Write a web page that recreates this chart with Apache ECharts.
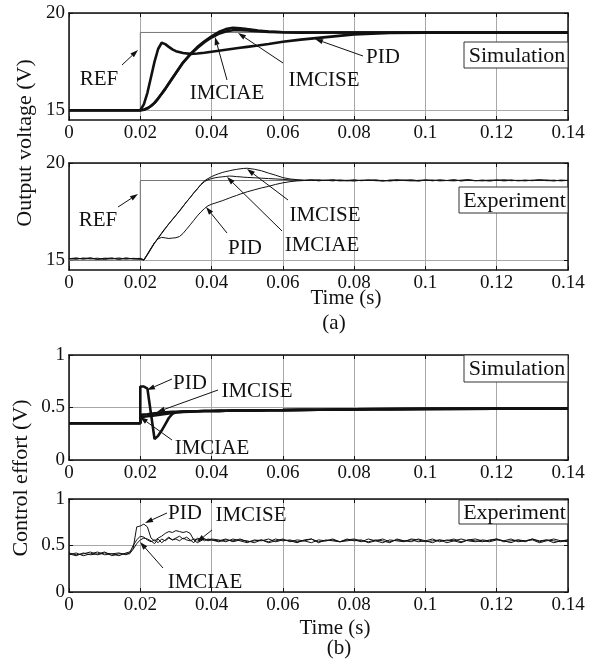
<!DOCTYPE html>
<html>
<head>
<meta charset="utf-8">
<script src="https://cdn.jsdelivr.net/npm/echarts@6/dist/echarts.min.js"></script>
<style>
  html, body { margin: 0; padding: 0; background: #fff; }
  #chart { width: 597px; height: 668px; }
</style>
</head>
<body>
<div id="chart"></div>
<script>
// ---- data ----
const xTicks = [0, 0.02, 0.04, 0.06, 0.08, 0.1, 0.12, 0.14]
const vTicks = [15, 20]
const uTicks = [0, 0.5, 1]

// reference steps
const refT = [0, 0.02, 0.02, 0.14]
const refSimV = [15, 15, 19, 19]
const refExpV = [15, 15, 19.1, 19.1]

// simulation time base (0.02 doubled for the step)
const tSim = [0, 0.02, 0.02, 0.021, 0.022, 0.023, 0.024, 0.025, 0.026, 0.027, 0.028, 0.029, 0.030,
  0.032, 0.034, 0.036, 0.038, 0.040, 0.042, 0.044, 0.046, 0.048, 0.050, 0.053, 0.056, 0.060,
  0.065, 0.070, 0.080, 0.090, 0.100, 0.120, 0.140]

// (a) output voltage, simulation
const pidSimV = [15, 15, 15, 15.3, 15.9, 16.7, 17.5, 18.15, 18.47, 18.4, 18.26, 18.13, 18.04,
  17.94, 17.9, 17.92, 17.96, 18.01, 18.06, 18.11, 18.16, 18.21, 18.26, 18.33, 18.41, 18.52,
  18.63, 18.72, 18.9, 18.97, 18.99, 19.0, 19.0]
const iaeSimV = [15, 15, 15, 15.03, 15.1, 15.22, 15.38, 15.6, 15.85, 16.1, 16.38, 16.65, 16.92,
  17.45, 17.88, 18.25, 18.55, 18.8, 19.02, 19.17, 19.24, 19.22, 19.17, 19.1, 19.05, 19.01,
  18.99, 19.0, 19.0, 19.0, 19.0, 19.0, 19.0]
const iseSimV = [15, 15, 15, 15.03, 15.1, 15.22, 15.38, 15.6, 15.85, 16.1, 16.38, 16.65, 16.92,
  17.45, 17.86, 18.2, 18.5, 18.74, 18.93, 19.05, 19.11, 19.12, 19.1, 19.06, 19.03, 19.01,
  19.0, 19.0, 19.0, 19.0, 19.0, 19.0, 19.0]

// (b) control effort, simulation
const pidSimU = [0.35, 0.35, 0.7, 0.7, 0.68, 0.44, 0.2, 0.23, 0.28, 0.34, 0.4, 0.44, 0.455,
  0.461, 0.463, 0.465, 0.466, 0.467, 0.468, 0.469, 0.47, 0.471, 0.472, 0.473, 0.474, 0.475,
  0.477, 0.479, 0.482, 0.485, 0.487, 0.489, 0.49]
const iaeSimU = [0.35, 0.35, 0.41, 0.413, 0.416, 0.42, 0.424, 0.428, 0.433, 0.438, 0.443, 0.448, 0.452,
  0.458, 0.461, 0.464, 0.466, 0.467, 0.468, 0.469, 0.47, 0.471, 0.472, 0.473, 0.474, 0.475,
  0.477, 0.479, 0.482, 0.485, 0.487, 0.489, 0.49]
const iseSimU = [0.35, 0.35, 0.43, 0.433, 0.436, 0.44, 0.444, 0.448, 0.451, 0.454, 0.456, 0.458, 0.46,
  0.462, 0.464, 0.465, 0.466, 0.467, 0.468, 0.469, 0.47, 0.471, 0.472, 0.473, 0.474, 0.475,
  0.477, 0.479, 0.482, 0.485, 0.487, 0.489, 0.49]

// (a) output voltage, experiment
const tExpV = [0, 0.002, 0.004, 0.006, 0.008, 0.010, 0.012, 0.014, 0.016, 0.018, 0.020,
  0.021, 0.022, 0.023, 0.024, 0.025, 0.026, 0.027, 0.028, 0.029, 0.030,
  0.031, 0.032, 0.033, 0.034, 0.035, 0.036, 0.037, 0.038, 0.039, 0.040,
  0.041, 0.042, 0.043, 0.044, 0.045, 0.046, 0.047, 0.048, 0.049, 0.050,
  0.052, 0.054, 0.056, 0.058, 0.060, 0.062, 0.064, 0.066, 0.068, 0.070,
  0.072, 0.074, 0.076, 0.078, 0.080, 0.082, 0.084, 0.086, 0.088, 0.090,
  0.092, 0.094, 0.096, 0.098, 0.100, 0.102, 0.104, 0.106, 0.108, 0.110,
  0.112, 0.114, 0.116, 0.118, 0.120, 0.122, 0.124, 0.126, 0.128, 0.130,
  0.132, 0.134, 0.136, 0.138, 0.140]
const pidExpV = [15.08, 15.12, 15.06, 15.1, 15.05, 15.11, 15.07, 15.12, 15.06, 15.1, 15.08,
  15.02, 15.3, 15.6, 15.9, 16.1, 16.18, 16.15, 16.12, 16.14, 16.16,
  16.22, 16.38, 16.6, 16.82, 17.05, 17.28, 17.48, 17.66, 17.8, 17.88,
  17.94, 18.0, 18.06, 18.13, 18.2, 18.27, 18.33, 18.4, 18.46, 18.52,
  18.62, 18.72, 18.8, 18.9, 18.98, 19.04, 19.08, 19.1, 19.13, 19.09,
  19.12, 19.08, 19.13, 19.1, 19.07, 19.12, 19.1, 19.14, 19.08, 19.11,
  19.09, 19.13, 19.1, 19.07, 19.12, 19.09, 19.13, 19.1, 19.08, 19.12,
  19.14, 19.09, 19.11, 19.07, 19.12, 19.1, 19.13, 19.08, 19.11, 19.1,
  19.14, 19.09, 19.12, 19.08, 19.11]
const iaeExpV = [15.1, 15.05, 15.12, 15.07, 15.11, 15.04, 15.1, 15.06, 15.12, 15.07, 15.05,
  15.0, 15.28, 15.58, 15.88, 16.15, 16.4, 16.65, 16.86, 17.1, 17.3,
  17.55, 17.78, 18.0, 18.23, 18.45, 18.68, 18.88, 19.04, 19.14, 19.2,
  19.24, 19.27, 19.29, 19.31, 19.33, 19.32, 19.3, 19.29, 19.27, 19.26,
  19.24, 19.22, 19.2, 19.18, 19.16, 19.13, 19.12, 19.1, 19.13, 19.09,
  19.11, 19.14, 19.1, 19.08, 19.12, 19.1, 19.13, 19.09, 19.11, 19.07,
  19.12, 19.1, 19.14, 19.09, 19.11, 19.13, 19.08, 19.1, 19.12, 19.09,
  19.13, 19.1, 19.08, 19.12, 19.1, 19.14, 19.09, 19.11, 19.08, 19.12,
  19.1, 19.13, 19.09, 19.11, 19.1]
const iseExpV = [15.06, 15.1, 15.08, 15.13, 15.05, 15.09, 15.12, 15.05, 15.1, 15.08, 15.1,
  15.03, 15.32, 15.62, 15.9, 16.12, 16.38, 16.62, 16.88, 17.08, 17.32,
  17.52, 17.76, 18.02, 18.22, 18.47, 18.66, 18.9, 19.08, 19.2, 19.3,
  19.38, 19.45, 19.51, 19.56, 19.6, 19.64, 19.67, 19.7, 19.72, 19.73,
  19.68, 19.6, 19.48, 19.37, 19.25, 19.18, 19.14, 19.12, 19.11, 19.14,
  19.1, 19.12, 19.08, 19.11, 19.13, 19.09, 19.12, 19.1, 19.07, 19.12,
  19.14, 19.1, 19.08, 19.11, 19.13, 19.09, 19.12, 19.1, 19.14, 19.08,
  19.11, 19.09, 19.12, 19.1, 19.13, 19.08, 19.11, 19.1, 19.12, 19.09,
  19.13, 19.1, 19.08, 19.12, 19.1]

// (b) control effort, experiment
const tExpU = [0, 0.002, 0.004, 0.006, 0.008, 0.010, 0.012, 0.014, 0.016,
  0.017, 0.018, 0.019, 0.020, 0.021, 0.022, 0.023, 0.024, 0.025, 0.026, 0.027, 0.028,
  0.029, 0.030, 0.031, 0.032, 0.033, 0.034, 0.035, 0.036, 0.037, 0.038, 0.039, 0.040,
  0.042, 0.044, 0.046, 0.048, 0.050, 0.052, 0.054, 0.056, 0.058, 0.060,
  0.062, 0.064, 0.066, 0.068, 0.070, 0.072, 0.074, 0.076, 0.078, 0.080,
  0.082, 0.084, 0.086, 0.088, 0.090, 0.092, 0.094, 0.096, 0.098, 0.100,
  0.102, 0.104, 0.106, 0.108, 0.110, 0.112, 0.114, 0.116, 0.118, 0.120,
  0.122, 0.124, 0.126, 0.128, 0.130, 0.132, 0.134, 0.136, 0.138, 0.140]
const pidExpU = [0.42, 0.4, 0.41, 0.43, 0.4, 0.42, 0.41, 0.39, 0.42,
  0.43, 0.47, 0.7, 0.71, 0.73, 0.7, 0.58, 0.55, 0.58, 0.6, 0.63, 0.65,
  0.64, 0.66, 0.65, 0.64, 0.65, 0.63, 0.56, 0.53, 0.55, 0.57, 0.56, 0.57,
  0.56, 0.54, 0.57, 0.55, 0.53, 0.56, 0.55, 0.57, 0.54, 0.56,
  0.55, 0.53, 0.56, 0.57, 0.54, 0.55, 0.56, 0.54, 0.57, 0.55,
  0.56, 0.53, 0.55, 0.57, 0.54, 0.56, 0.55, 0.54, 0.57, 0.55,
  0.53, 0.56, 0.55, 0.57, 0.54, 0.56, 0.55, 0.54, 0.56, 0.57,
  0.55, 0.53, 0.56, 0.55, 0.57, 0.54, 0.56, 0.55, 0.54, 0.56]
const iaeExpU = [0.4, 0.42, 0.39, 0.41, 0.43, 0.4, 0.41, 0.42, 0.4,
  0.42, 0.5, 0.56, 0.6, 0.59, 0.56, 0.54, 0.56, 0.53, 0.57, 0.55, 0.58,
  0.56, 0.57, 0.55, 0.58, 0.56, 0.55, 0.57, 0.56, 0.58, 0.55, 0.57, 0.56,
  0.55, 0.57, 0.54, 0.56, 0.55, 0.53, 0.56, 0.54, 0.57, 0.55,
  0.56, 0.54, 0.55, 0.57, 0.53, 0.56, 0.55, 0.54, 0.56, 0.57,
  0.55, 0.54, 0.56, 0.55, 0.53, 0.57, 0.55, 0.56, 0.54, 0.55,
  0.57, 0.54, 0.56, 0.55, 0.53, 0.56, 0.57, 0.55, 0.54, 0.56,
  0.55, 0.57, 0.54, 0.55, 0.56, 0.53, 0.55, 0.57, 0.55, 0.54]
const iseExpU = [0.41, 0.39, 0.42, 0.4, 0.41, 0.43, 0.39, 0.41, 0.41,
  0.41, 0.46, 0.52, 0.56, 0.58, 0.57, 0.55, 0.52, 0.57, 0.53, 0.56, 0.59,
  0.56, 0.58, 0.6, 0.57, 0.59, 0.56, 0.53, 0.58, 0.56, 0.57, 0.55, 0.56,
  0.54, 0.56, 0.55, 0.57, 0.54, 0.55, 0.56, 0.53, 0.55, 0.57,
  0.54, 0.56, 0.55, 0.53, 0.56, 0.55, 0.57, 0.54, 0.55, 0.56,
  0.54, 0.57, 0.55, 0.53, 0.56, 0.55, 0.54, 0.57, 0.56, 0.54,
  0.55, 0.56, 0.53, 0.55, 0.57, 0.55, 0.54, 0.56, 0.55, 0.57,
  0.54, 0.55, 0.56, 0.54, 0.57, 0.55, 0.56, 0.53, 0.55, 0.56]

// ---- layout ----
const FONT = 'Liberation Serif'
const INK = '#111'
const GRIDS = [
  { left: 69, top: 13, width: 499, height: 107 },
  { left: 69, top: 163, width: 499, height: 107 },
  { left: 69, top: 355, width: 499, height: 105 },
  { left: 69, top: 499, width: 499, height: 93 }
]
const Y_RANGE = [[14.5, 20, vTicks], [14.5, 20, vTicks], [0, 1, uTicks], [0, 1, uTicks]]

function pairs (t, v) {
  return t.map((x, i) => [x, v[i]])
}

const xAxis = []
const yAxis = []
GRIDS.forEach((g, i) => {
  const frame = { show: true, onZero: false, lineStyle: { color: INK, width: 1.5 } }
  xAxis.push({
    type: 'value', gridIndex: i, min: 0, max: 0.14, position: 'bottom',
    axisLine: frame,
    axisTick: { inside: true, length: 4, customValues: xTicks, lineStyle: { color: INK } },
    axisLabel: { customValues: xTicks, fontFamily: FONT, fontSize: 19, color: INK, margin: 4 },
    splitLine: { show: true, lineStyle: { color: '#a8a8a8', width: 1 } }
  })
  xAxis.push({
    type: 'value', gridIndex: i, min: 0, max: 0.14, position: 'top',
    axisLine: frame,
    axisTick: { inside: true, length: 4, customValues: xTicks, lineStyle: { color: INK } },
    axisLabel: { show: false },
    splitLine: { show: false }
  })
  const [mn, mx, tk] = Y_RANGE[i]
  yAxis.push({
    type: 'value', gridIndex: i, min: mn, max: mx, position: 'left',
    axisLine: frame,
    axisTick: { inside: true, length: 4, customValues: tk, lineStyle: { color: INK } },
    axisLabel: { customValues: tk, fontFamily: FONT, fontSize: 19, color: INK, margin: 4 },
    splitLine: { show: true, lineStyle: { color: '#a8a8a8', width: 1 } }
  })
  yAxis.push({
    type: 'value', gridIndex: i, min: mn, max: mx, position: 'right',
    axisLine: frame,
    axisTick: { inside: true, length: 4, customValues: tk, lineStyle: { color: INK } },
    axisLabel: { show: false },
    splitLine: { show: false }
  })
})

function line (name, grid, data, width, color) {
  return {
    name: name, type: 'line', xAxisIndex: grid * 2, yAxisIndex: grid * 2,
    data: data, showSymbol: false, symbol: 'none',
    lineStyle: { color: color || INK, width: width },
    z: color ? 1 : 3
  }
}

const series = [
  line('REF', 0, pairs(refT, refSimV), 1, '#777'),
  line('PID', 0, pairs(tSim, pidSimV), 2.6),
  line('IMCIAE', 0, pairs(tSim, iaeSimV), 2.6),
  line('IMCISE', 0, pairs(tSim, iseSimV), 2.6),
  line('REF', 1, pairs(refT, refExpV), 1, '#777'),
  line('PID', 1, pairs(tExpV, pidExpV), 1),
  line('IMCIAE', 1, pairs(tExpV, iaeExpV), 1),
  line('IMCISE', 1, pairs(tExpV, iseExpV), 1),
  line('PID', 2, pairs(tSim, pidSimU), 2.6),
  line('IMCIAE', 2, pairs(tSim, iaeSimU), 2.6),
  line('IMCISE', 2, pairs(tSim, iseSimU), 2.6),
  line('PID', 3, pairs(tExpU, pidExpU), 1),
  line('IMCIAE', 3, pairs(tExpU, iaeExpU), 1),
  line('IMCISE', 3, pairs(tExpU, iseExpU), 1)
]

// annotations: [text, textX, textY, arrowFromX, arrowFromY, arrowToX, arrowToY]
const notes = [
  ['REF', 99, 79, 122, 65, 138, 50],
  ['IMCIAE', 227, 93, 227, 80, 215, 37],
  ['IMCISE', 324, 80, 283, 63, 238, 33],
  ['PID', 383, 57, 363, 56, 315, 39],
  ['REF', 98, 220, 118, 207, 138, 194],
  ['PID', 245, 248, 227, 233, 206, 207],
  ['IMCIAE', 322, 245, 282, 231, 227, 177],
  ['IMCISE', 325, 215, 288, 200, 247, 169],
  ['PID', 190, 383, 172, 379, 147, 390],
  ['IMCISE', 257, 391, 218, 390, 157, 412],
  ['IMCIAE', 212, 448, 172, 440, 140, 417],
  ['PID', 185, 513, 167, 513, 145, 523],
  ['IMCISE', 251, 515, 212, 530, 197, 542],
  ['IMCIAE', 205, 582, 163, 568, 140, 542]
]
// boxed labels: [text, left, top, right, bottom]
const boxes = [
  ['Simulation', 464, 42, 568, 68],
  ['Experiment', 459, 187, 568, 213],
  ['Simulation', 464, 355, 568, 382],
  ['Experiment', 459, 500, 568, 524]
]

function text (str, x, y, size, rot) {
  return {
    type: 'text', x: x, y: y, rotation: rot || 0, z: 100,
    style: { text: str, x: 0, y: 0, align: 'center', verticalAlign: 'middle',
      fontFamily: FONT, fontSize: size, fill: INK }
  }
}

const graphic = []
notes.forEach(n => {
  const [s, tx, ty, x1, y1, x2, y2] = n
  graphic.push(text(s, tx, ty, 21))
  const a = Math.atan2(y2 - y1, x2 - x1)
  const L = 8
  const W = 2.6
  const bx = x2 - L * Math.cos(a)
  const by = y2 - L * Math.sin(a)
  graphic.push({ type: 'line', z: 100, shape: { x1: x1, y1: y1, x2: bx, y2: by }, style: { stroke: INK, lineWidth: 1 } })
  graphic.push({
    type: 'polygon', z: 100,
    shape: { points: [[x2, y2], [bx + W * Math.sin(a), by - W * Math.cos(a)], [bx - W * Math.sin(a), by + W * Math.cos(a)]] },
    style: { fill: INK }
  })
})
boxes.forEach(b => {
  const [s, l, t, r, btm] = b
  graphic.push({ type: 'rect', z: 99, shape: { x: l, y: t, width: r - l, height: btm - t }, style: { fill: '#fff', stroke: '#333', lineWidth: 1 } })
  graphic.push(text(s, (l + r) / 2 + 1, (t + btm) / 2 + 1, 22))
})
graphic.push(text('Output voltage (V)', 25, 143, 22, Math.PI / 2))
graphic.push(text('Control effort (V)', 21, 478, 22, Math.PI / 2))
graphic.push(text('Time (s)', 346, 298, 21))
graphic.push(text('(a)', 334, 323, 21))
graphic.push(text('Time (s)', 335, 628, 21))
graphic.push(text('(b)', 339, 648, 21))

const myChart = echarts.init(document.getElementById('chart'))
myChart.setOption({
  animation: false,
  backgroundColor: '#fff',
  grid: GRIDS.map(g => Object.assign({ containLabel: false }, g)),
  xAxis: xAxis,
  yAxis: yAxis,
  series: series,
  graphic: graphic
})
</script>
</body>
</html>
